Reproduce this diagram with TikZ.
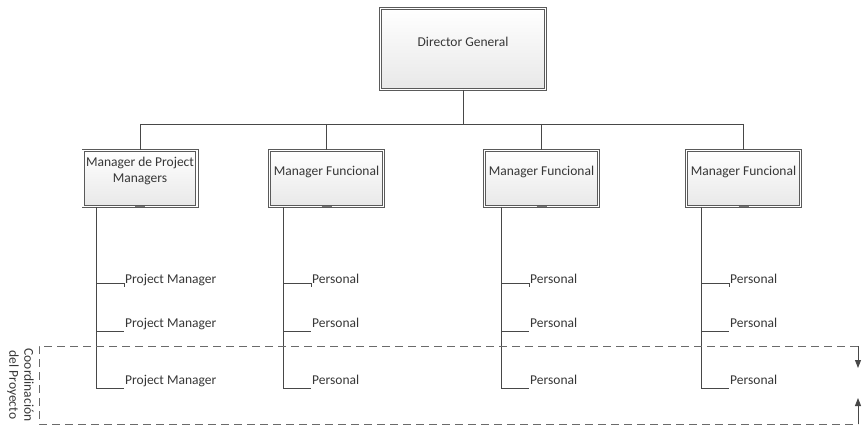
\documentclass[tikz,border=0pt]{standalone}
\usepackage{fontspec}
\setmainfont{Carlito}
\usetikzlibrary{shadows,calc,arrows.meta}
\definecolor{ink}{HTML}{363636}
\definecolor{edge}{HTML}{484848}
\definecolor{frame}{HTML}{5A5A5A}
\definecolor{dashgray}{HTML}{6A6A6A}
\begin{document}
\begin{tikzpicture}[x=1pt,y=-1pt,
  box/.style={rectangle, draw=frame, double=white, double distance=1.6pt,
    line width=0.8pt, top color=white, bottom color=black!9, inner sep=0pt,
    drop shadow={opacity=0.18, shadow xshift=1.5pt, shadow yshift=-1.5pt}},
  bigbox/.style={box, minimum width=164.8pt, minimum height=80.8pt},
  mgrbox/.style={box, minimum width=113.8pt, minimum height=55.8pt},
  txt/.style={font=\fontsize{13.5}{16}\selectfont, text=ink, inner sep=0pt, align=center},
  leaf/.style={font=\fontsize{13.5}{15}\selectfont, text=ink, inner sep=0pt},
  conn/.style={draw=edge, line width=0.9pt},
  dashline/.style={draw=dashgray, line width=1pt, dash pattern=on 8pt off 5pt},
  tip/.style={draw=edge, line width=0.9pt, -{Triangle[length=8pt,width=6pt]}}]
\useasboundingbox (0,0) rectangle (862,425);

% top of the hierarchy
\node[bigbox] (dg) at (463,49) {};
\node[txt] (dgt) at (463,42) {Director General};

% manager boxes
\node[mgrbox] (m1) at (140,178.5) {};
\node[mgrbox] (m2) at (326.5,178.5) {};
\node[mgrbox] (m3) at (541.5,178.5) {};
\node[mgrbox] (m4) at (743.5,178.5) {};
\node[txt] (m1t) at (140,171) {Manager de Project\\Managers};
\node[txt] (m2t) at (326.5,172) {Manager Funcional};
\node[txt] (m3t) at (541.5,172) {Manager Funcional};
\node[txt] (m4t) at (743.5,172) {Manager Funcional};

% small dark connection marks on the box bottoms
\foreach \i in {1,...,4}
  \draw[black!55, line width=1.1pt] ($(m\i.south)+(-5,0)$) -- ($(m\i.south)+(5,0)$);

% bus from the director to the managers
\coordinate (bus) at (463,124);
\draw[conn] (dg.south) -- (bus);
\draw[conn] (m1.north |- bus) -- (m4.north |- bus);
\foreach \i in {1,...,4}
  \draw[conn] (m\i.north |- bus) -- (m\i.north);

% staff under each manager
\foreach \i/\xb/\lab in {1/96/Project Manager, 2/283/Personal, 3/501/Personal, 4/701/Personal} {
  \coordinate (t\i) at (\xb,0);
  \node[leaf, anchor=base west] (p\i-a) at (\xb+29,283) {\lab};
  \node[leaf, anchor=base west] (p\i-b) at (\xb+29,327) {\lab};
  \node[leaf, anchor=base west] (p\i-c) at (\xb+29,384) {\lab};
  \draw[conn] (m\i.south -| t\i) |- ($(p\i-c.base west)+(-1,4)$);
  \draw[conn] (t\i |- p\i-a.base) -| ($(p\i-a.base west)+(-1,4)$);
  \draw[conn] ($(t\i |- p\i-b.base)+(0,4)$) -- ($(p\i-b.base west)+(-1,4)$);
}

% project coordination band
\coordinate (bandtl) at (39,346);
\coordinate (bandbr) at (858,424);
\draw[dashline] (bandbr |- bandtl) -- (bandtl) -- (bandtl |- bandbr) -- (bandbr);
\draw[tip] (bandbr |- bandtl) -- ($(bandbr |- bandtl)+(0,22)$);
\draw[tip] (bandbr) -- ($(bandbr)+(0,-26)$);
\node[leaf, rotate=-90, align=center, font=\fontsize{13.5}{15}\selectfont] (band) at (20.5,385)
  {Coordinación\\del Proyecto};
\end{tikzpicture}
\end{document}
